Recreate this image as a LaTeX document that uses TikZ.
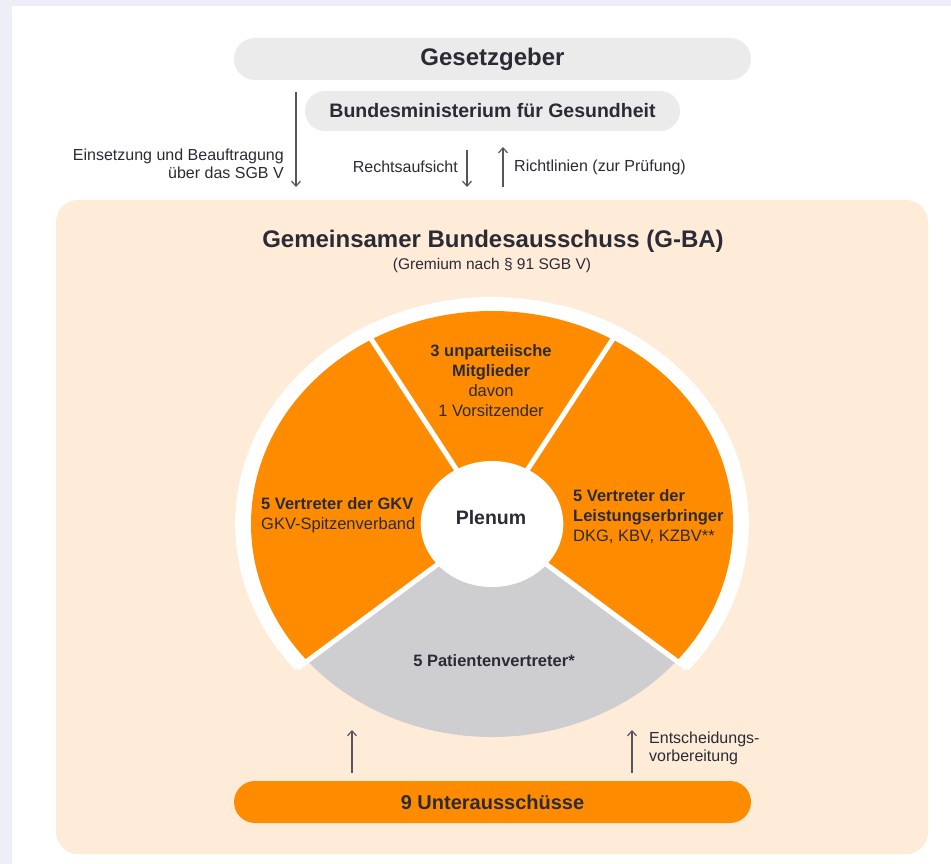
\documentclass[tikz,border=0pt]{standalone}
\usepackage{fontspec}
\setmainfont{Liberation Sans}
\usetikzlibrary{arrows.meta}
\definecolor{ink}{HTML}{2B2B36}
\definecolor{gborange}{HTML}{FF8C00}
\definecolor{peach}{HTML}{FEEBD8}
\definecolor{pillgray}{HTML}{EBEBEB}
\definecolor{sectorgray}{HTML}{CECED1}
\definecolor{framelav}{HTML}{EEEEF8}
\definecolor{arrowgray}{HTML}{55555C}

\begin{document}
\begin{tikzpicture}[x=1pt,y=-1pt,
  every node/.style={text=ink, inner sep=0pt},
  pill/.style={rectangle, rounded corners=21pt, minimum height=42pt,
    font=\bfseries\fontsize{24}{28}\selectfont},
  lbl/.style={font=\fontsize{16}{18}\selectfont},
  piebold/.style={font=\fontsize{16.5}{20}\selectfont},
  flowarrow/.style={draw=arrowgray, line width=1.2pt,
    -{Straight Barb[length=5pt,width=9pt]}}
]
% page frame
\useasboundingbox (0,0) rectangle (951,864);
\fill[framelav] (0,0) rectangle (951,864);
\fill[white] (12,6) rectangle (951,864);

% top level bodies
\node[pill, fill=pillgray, minimum width=517pt] (ges) at (492.5,59) {Gesetzgeber};
\node[pill, fill=pillgray, minimum width=375pt, minimum height=40pt,
  rounded corners=20pt, font=\bfseries\fontsize{19.5}{23}\selectfont]
  (bmg) at (492.5,111) {Bundesministerium für Gesundheit};

% G-BA panel
\node[rectangle, fill=peach, rounded corners=22pt, minimum width=872pt,
  minimum height=654pt] (gba) at (492,527) {};

% arrows between the levels
\coordinate (einS) at (296,92);
\coordinate (einE) at (296,187);
\coordinate (raS) at (467,150);
\coordinate (raE) at (467,187);
\coordinate (rlS) at (503,187);
\coordinate (rlE) at (503,147);
\draw[flowarrow] (einS) -- (einE);
\draw[flowarrow] (raS) -- (raE);
\draw[flowarrow] (rlS) -- (rlE);
\node[lbl, anchor=east, align=right] (einl) at (284,164)
  {Einsetzung und Beauftragung\\über das SGB V};
\node[lbl, anchor=east] (ral) at (458,167) {Rechtsaufsicht};
\node[lbl, anchor=west] (rll) at (514,167) {Richtlinien (zur Prüfung)};

% panel title
\node[font=\bfseries\fontsize{24}{28}\selectfont] (title) at (493,241)
  {Gemeinsamer Bundesausschuss (G-BA)};
\node[font=\fontsize{15.5}{18}\selectfont] (sub) at (492,265)
  {(Gremium nach § 91 SGB V)};

% plenum wheel
\begin{scope}[shift={(492,524)}, yscale=-1, xscale=1.1315]
  \fill[white] (0,0) -- (-40:227) arc[start angle=-40, end angle=220, radius=227] -- cycle;
  \fill[gborange] (0,0) -- (-40:213) arc[start angle=-40, end angle=220, radius=213] -- cycle;
  \fill[sectorgray] (0,0) -- (220:213) arc[start angle=220, end angle=320, radius=213] -- cycle;
  \foreach \a in {60,120,220,-40}
    \draw[white, line width=5pt] (0,0) -- (\a:225);
  \fill[white] (0,0) circle[radius=63];
\end{scope}

\node[font=\bfseries\fontsize{19.5}{23}\selectfont] (plenum) at (491,518) {Plenum};
\node[piebold, align=center] (neutral) at (491,381)
  {\textbf{3 unparteiische}\\\textbf{Mitglieder}\\davon\\1 Vorsitzender};
\node[piebold, anchor=west, align=left] (gkv) at (261,515)
  {\textbf{5 Vertreter der GKV}\\GKV-Spitzenverband};
\node[piebold, anchor=west, align=left] (leist) at (573,517)
  {\textbf{5 Vertreter der}\\\textbf{Leistungserbringer}\\DKG, KBV, KZBV**};
\node[piebold] (pat) at (494,661) {\textbf{5 Patientenvertreter*}};

% subcommittees
\node[pill, fill=gborange, minimum width=517pt,
  font=\bfseries\fontsize{20}{24}\selectfont] (unter) at (492.5,802) {9 Unterausschüsse};
\coordinate (u1S) at (352,773);
\coordinate (u1E) at (352,730);
\coordinate (u2S) at (632,773);
\coordinate (u2E) at (632,730);
\draw[flowarrow] (u1S) -- (u1E);
\draw[flowarrow] (u2S) -- (u2E);
\node[lbl, anchor=west, align=left] (entl) at (649,748)
  {Entscheidungs-\\vorbereitung};
\end{tikzpicture}
\end{document}
